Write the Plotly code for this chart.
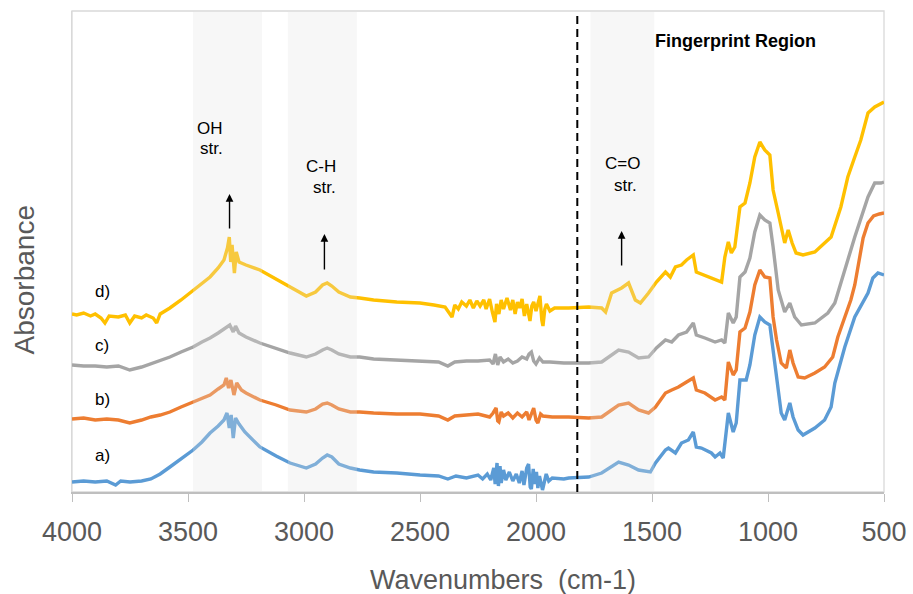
import plotly.graph_objects as go

# FTIR spectra, stacked: (wavenumber cm-1, absorbance in arbitrary offset units)
spec_a = [(4000, 10), (3950, 11), (3900, 10), (3850, 11), (3812, 7), (3790, 11), (3750, 10), (3700, 11),
          (3660, 13), (3620, 18), (3578, 25), (3530, 33), (3478, 42), (3440, 50), (3405, 59), (3370, 66),
          (3345, 72), (3332, 79), (3322, 64), (3314, 77), (3305, 54), (3295, 74), (3280, 68), (3255, 60),
          (3190, 45), (3120, 36), (3060, 29), (2990, 24), (2950, 28), (2920, 34), (2900, 37), (2880, 35),
          (2850, 28), (2800, 24), (2760, 22), (2700, 20), (2600, 19), (2500, 17), (2420, 16), (2380, 13),
          (2345, 16), (2300, 14), (2250, 17), (2230, 13), (2210, 18), (2195, 12), (2182, 24), (2176, 8),
          (2168, 29), (2162, 6), (2155, 26), (2150, 9), (2140, 22), (2130, 12), (2115, 20), (2100, 11),
          (2085, 18), (2072, 9), (2060, 21), (2052, 7), (2040, 24), (2032, 28), (2025, 5), (2020, 3),
          (2012, 23), (2006, 8), (1998, 20), (1992, 4), (1985, 16), (1972, 2), (1965, 10), (1956, 18),
          (1945, 11), (1930, 14), (1880, 13), (1859, 14), (1773, 15), (1717, 19), (1644, 30), (1601, 27),
          (1558, 22), (1507, 20), (1485, 29), (1442, 42), (1429, 44), (1399, 39), (1373, 49), (1343, 52),
          (1322, 60), (1309, 45), (1287, 44), (1244, 39), (1228, 35), (1207, 39), (1193, 34), (1171, 79),
          (1150, 60), (1137, 69), (1121, 112), (1094, 112), (1078, 127), (1057, 157), (1035, 175), (1014, 170),
          (992, 167), (978, 142), (963, 109), (943, 79), (928, 72), (906, 89), (892, 75), (870, 62),
          (849, 57), (798, 64), (756, 72), (728, 85), (712, 109), (669, 145), (626, 175), (569, 199),
          (548, 214), (526, 219), (500, 217)]

spec_b = [(4000, 73), (3950, 74), (3900, 72), (3850, 73), (3800, 72), (3751, 69), (3700, 72), (3660, 75),
          (3620, 77), (3578, 80), (3530, 85), (3478, 90), (3440, 94), (3405, 97), (3370, 103), (3345, 107),
          (3335, 114), (3325, 104), (3315, 112), (3302, 97), (3290, 109), (3270, 102), (3250, 99), (3190, 92),
          (3120, 87), (3060, 82), (2990, 80), (2950, 83), (2920, 88), (2900, 89), (2880, 87), (2850, 83),
          (2800, 80), (2760, 80), (2700, 79), (2600, 78), (2500, 78), (2420, 76), (2380, 72), (2350, 76),
          (2300, 77), (2250, 78), (2200, 75), (2185, 79), (2172, 84), (2165, 71), (2160, 70), (2150, 80),
          (2140, 76), (2120, 79), (2100, 74), (2080, 79), (2060, 75), (2040, 80), (2030, 72), (2020, 79),
          (2010, 84), (2000, 72), (1992, 69), (1980, 78), (1970, 76), (1930, 75), (1880, 75), (1859, 75),
          (1773, 74), (1717, 75), (1644, 87), (1601, 89), (1558, 82), (1515, 79), (1485, 85), (1442, 99),
          (1415, 102), (1386, 105), (1351, 110), (1322, 114), (1309, 102), (1272, 99), (1228, 92), (1200, 95),
          (1186, 92), (1171, 130), (1150, 117), (1137, 122), (1121, 160), (1099, 164), (1078, 180), (1057, 207),
          (1035, 222), (1014, 215), (992, 214), (978, 175), (963, 152), (943, 129), (921, 124), (906, 142),
          (892, 129), (870, 115), (842, 114), (798, 119), (756, 125), (721, 135), (699, 155), (669, 175),
          (643, 192), (626, 207), (613, 224), (600, 242), (590, 254), (569, 269), (545, 276), (520, 278),
          (500, 279)]

spec_c = [(4000, 127), (3950, 126), (3900, 126), (3850, 125), (3800, 126), (3751, 122), (3700, 125), (3660, 128),
          (3620, 131), (3578, 135), (3530, 140), (3478, 145), (3440, 150), (3405, 154), (3370, 159), (3340, 164),
          (3320, 167), (3305, 160), (3295, 166), (3280, 159), (3250, 155), (3190, 149), (3120, 144), (3060, 139),
          (2990, 135), (2950, 138), (2920, 142), (2900, 144), (2880, 142), (2850, 138), (2800, 135), (2760, 135),
          (2700, 133), (2600, 132), (2500, 131), (2420, 130), (2380, 126), (2350, 130), (2300, 131), (2250, 131),
          (2200, 132), (2185, 128), (2175, 138), (2165, 127), (2155, 135), (2140, 130), (2120, 133), (2100, 129),
          (2080, 131), (2060, 135), (2040, 133), (2030, 138), (2020, 140), (2010, 131), (2000, 128), (1985, 134),
          (1970, 130), (1940, 130), (1880, 129), (1859, 129), (1773, 129), (1717, 130), (1644, 142), (1601, 140),
          (1558, 134), (1515, 135), (1481, 144), (1442, 152), (1415, 150), (1386, 157), (1351, 160), (1322, 169),
          (1309, 157), (1272, 154), (1228, 150), (1200, 152), (1186, 149), (1171, 179), (1150, 169), (1137, 175),
          (1121, 215), (1099, 220), (1078, 234), (1057, 260), (1035, 277), (1014, 272), (992, 269), (978, 245),
          (956, 202), (928, 180), (906, 189), (885, 175), (856, 167), (798, 169), (742, 179), (712, 189),
          (669, 222), (626, 255), (569, 295), (540, 309), (513, 309), (500, 310)]

spec_d = [(4000, 178), (3980, 177), (3950, 179), (3920, 176), (3900, 178), (3875, 174), (3858, 169), (3840, 176),
          (3800, 175), (3770, 177), (3751, 169), (3730, 176), (3700, 174), (3680, 177), (3650, 174), (3635, 169),
          (3620, 178), (3578, 184), (3530, 192), (3478, 202), (3440, 209), (3405, 215), (3370, 224), (3345, 232),
          (3330, 244), (3322, 255), (3316, 230), (3310, 247), (3300, 219), (3292, 240), (3280, 230), (3250, 227),
          (3190, 222), (3120, 213), (3060, 205), (2990, 196), (2950, 200), (2920, 207), (2900, 209), (2880, 206),
          (2850, 200), (2800, 195), (2760, 194), (2700, 192), (2600, 190), (2500, 189), (2440, 187), (2392, 185),
          (2362, 175), (2350, 187), (2335, 183), (2320, 190), (2300, 186), (2285, 192), (2270, 184), (2255, 191),
          (2241, 186), (2225, 192), (2215, 183), (2200, 193), (2188, 180), (2177, 170), (2170, 188), (2160, 178),
          (2150, 192), (2140, 183), (2125, 194), (2110, 182), (2100, 192), (2090, 178), (2080, 190), (2070, 184),
          (2060, 193), (2050, 176), (2040, 188), (2026, 171), (2018, 186), (2010, 190), (2000, 181), (1990, 192),
          (1983, 196), (1975, 172), (1970, 166), (1962, 183), (1955, 188), (1940, 181), (1920, 184), (1880, 184),
          (1859, 184), (1773, 185), (1717, 184), (1700, 180), (1674, 199), (1631, 204), (1601, 209), (1572, 192),
          (1550, 189), (1515, 199), (1481, 210), (1442, 220), (1421, 215), (1399, 225), (1373, 227), (1351, 232),
          (1322, 237), (1309, 220), (1257, 215), (1228, 212), (1200, 210), (1186, 235), (1171, 250), (1158, 239),
          (1143, 245), (1121, 285), (1099, 289), (1078, 309), (1057, 335), (1035, 350), (1014, 342), (992, 337),
          (978, 302), (956, 279), (928, 249), (913, 262), (896, 249), (879, 239), (849, 237), (798, 240),
          (756, 249), (728, 255), (686, 285), (656, 315), (626, 335), (600, 352), (569, 379), (540, 385),
          (500, 390)]

series = [
    ("a)", spec_a, "#5B9BD5"),
    ("b)", spec_b, "#ED7D31"),
    ("c)", spec_c, "#A5A5A5"),
    ("d)", spec_d, "#FFC000"),
]

# Shaded band windows (cm-1) and the start of the fingerprint region
band_windows = [(3478, 3181), (3069, 2772), (1765, 1490)]
fingerprint_edge = 1822

FONT = "Arial, 'Liberation Sans', sans-serif"
AXIS_GREY = "#595959"

fig = go.Figure()
for name, spec, color in series:
    wn = [p[0] for p in spec]
    ab = [p[1] for p in spec]
    fig.add_trace(go.Scatter(x=wn, y=ab, mode="lines", name=name,
                             line=dict(color=color, width=3.4),
                             showlegend=False, hoverinfo="skip"))

shapes = [
    dict(type="rect", xref="paper", yref="paper", x0=0, x1=1, y0=0, y1=1,
         line=dict(color="#D9D9D9", width=1.3), layer="below"),
]
for lo, hi in band_windows:
    shapes.append(dict(type="rect", xref="x", yref="paper", x0=lo, x1=hi, y0=0, y1=1,
                       fillcolor="rgba(226,226,226,0.28)", line=dict(width=0), layer="above"))
shapes.append(dict(type="line", xref="x", yref="paper", x0=fingerprint_edge, x1=fingerprint_edge,
                   y0=0, y1=1, line=dict(color="black", width=2, dash="8px,5px"), layer="above"))

annotations = []
for name, y in [("a)", 37), ("b)", 93), ("c)", 147), ("d)", 201)]:
    annotations.append(dict(x=3870, y=y, xref="x", yref="y", text=name, showarrow=False,
                            font=dict(family=FONT, size=17, color="#000000")))

band_text = [
    ("OH", 3407, 364, "str.", 3398, 344, 3321, 262, 298),
    ("C-H", 2925, 326, "str.", 2912, 305, 2912, 221, 258),
    ("C=O", 1627, 329, "str.", 1614, 307, 1631, 225, 261),
]
for t1, x1, y1, t2, x2, y2, xa, ytail, yhead in band_text:
    annotations.append(dict(x=x1, y=y1, xref="x", yref="y", text=t1, showarrow=False,
                            font=dict(family=FONT, size=17, color="#000000")))
    annotations.append(dict(x=x2, y=y2, xref="x", yref="y", text=t2, showarrow=False,
                            font=dict(family=FONT, size=17, color="#000000")))
    annotations.append(dict(x=xa, y=yhead, ax=xa, ay=ytail, xref="x", yref="y",
                            axref="x", ayref="y", text="", showarrow=True,
                            arrowhead=2, arrowsize=1.1, arrowwidth=1.4, arrowcolor="black",
                            standoff=0, startstandoff=0))

annotations.append(dict(x=1141, y=451, xref="x", yref="y", text="<b>Fingerprint Region</b>",
                        showarrow=False, font=dict(family=FONT, size=18, color="#000000")))

# axis titles
annotations.append(dict(x=0.531, y=-0.183, xref="paper", yref="paper",
                        text="Wavenumbers\u00a0 (cm-1)", showarrow=False,
                        xanchor="center", yanchor="middle",
                        font=dict(family=FONT, size=27, color=AXIS_GREY)))
annotations.append(dict(x=-0.059, y=0.44, xref="paper", yref="paper",
                        text="Absorbance", showarrow=False, textangle=-90,
                        xanchor="center", yanchor="middle",
                        font=dict(family=FONT, size=28, color=AXIS_GREY)))

fig.update_layout(
    width=913, height=594,
    margin=dict(l=72, r=29, t=11, b=102, autoexpand=False),
    paper_bgcolor="white", plot_bgcolor="white",
    font=dict(family=FONT, color=AXIS_GREY),
    shapes=shapes, annotations=annotations,
    xaxis=dict(
        range=[4000, 500], tickmode="array",
        tickvals=[4000, 3500, 3000, 2500, 2000, 1500, 1000, 500],
        ticktext=["4000", "3500", "3000", "2500", "2000", "1500", "1000", "500"],
        ticks="outside", ticklen=8, tickwidth=1.3, tickcolor="#BFBFBF",
        showline=True, linecolor="#BFBFBF", linewidth=1.5,
        showgrid=False, zeroline=False,
        tickfont=dict(family=FONT, size=27, color=AXIS_GREY),
        ticklabelstandoff=7,
        automargin=False,
    ),
    yaxis=dict(
        range=[0, 481], showticklabels=False, ticks="",
        showline=True, linecolor="#D9D9D9", linewidth=1.3,
        showgrid=False, zeroline=False,
        automargin=False,
    ),
)

fig.write_html("out.html")
